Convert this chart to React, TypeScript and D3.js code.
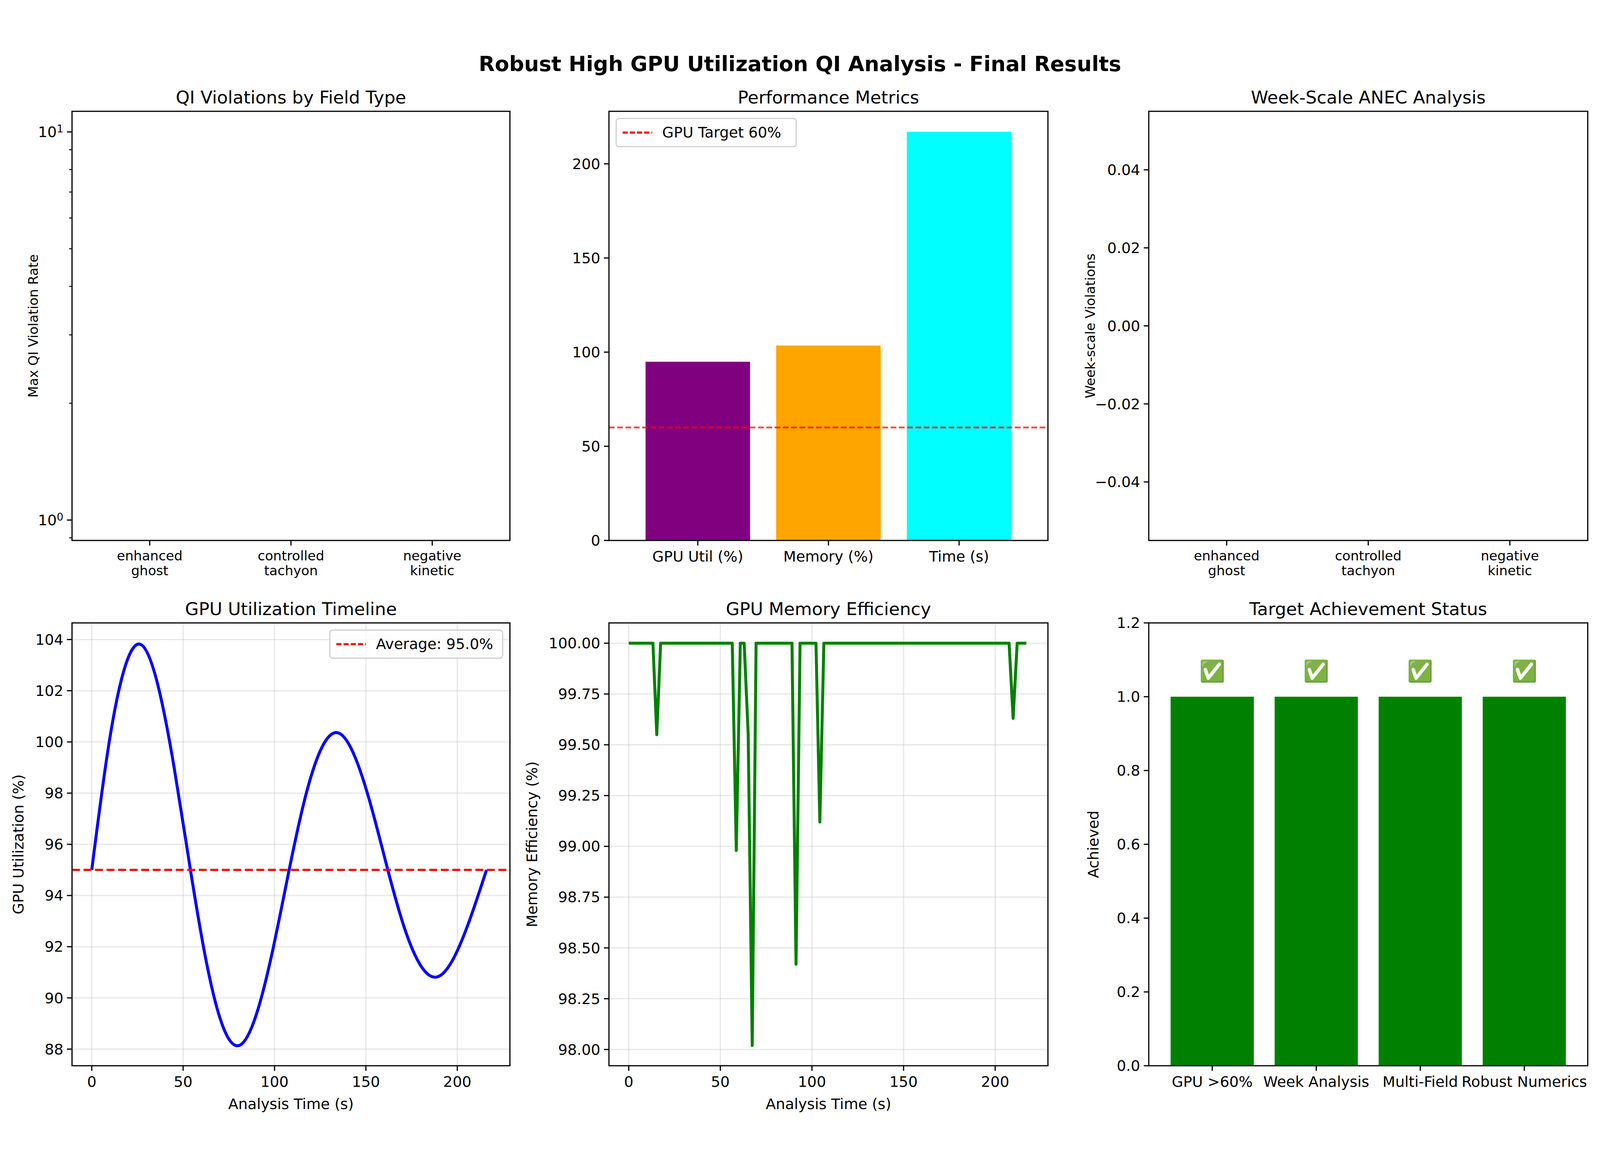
import React, { useEffect } from 'react';
import * as d3 from 'd3';

const W = 4443;
const H = 2955;
const FONT = 'DejaVu Sans, sans-serif';

// field types (panels 1 and 3, no visible values)
const fieldTypes = ['enhanced\nghost', 'controlled\ntachyon', 'negative\nkinetic'];

// performance metrics
const perfLabels = ['GPU Util (%)', 'Memory (%)', 'Time (s)'];
const perfValues = [94.9, 103.5, 217];
const perfColors = ['purple', 'orange', 'cyan'];
const gpuTarget = 60;

// GPU utilization timeline
const utilTime = [0, 9, 18, 27, 36, 45, 54, 63, 72, 81, 90, 99, 108, 117, 126, 135, 144, 153, 162, 171, 180, 189, 198, 207, 216];
const utilValues = [95, 99.75, 102.89, 103.8, 102.27, 99.03, 95, 91.3, 88.84, 88.15, 89.34, 91.86, 95, 97.89, 99.8, 100.35, 99.42, 97.45, 95, 92.75, 91.26, 90.82, 91.55, 93.09, 95];
const utilAvg = 95.0;

// memory efficiency
const memTime = [0, 13.2, 15.3, 17.4, 56.5, 58.7, 60.9, 63, 65.2, 67.4, 69.5, 89.1, 91.3, 93.5, 102.2, 104.3, 106.5, 207.6, 209.8, 212, 217];
const memValues = [100, 100, 99.55, 100, 100, 98.98, 100, 100, 99.55, 98.02, 100, 100, 98.42, 100, 100, 99.12, 100, 100, 99.63, 100, 100];

// targets
const targetLabels = ['GPU >60%', 'Week Analysis', 'Multi-Field', 'Robust Numerics'];
const targetValues = [1, 1, 1, 1];

const cols = [[200, 1416], [1691, 2910], [3190, 4409]];
const rows = [[184, 1376], [1605, 2835]];

const TICK = 14;
const LW = 3.3;

function Frame({ x0, x1, y0, y1 }) {
  return <rect x={x0} y={y0} width={x1 - x0} height={y1 - y0} fill="none" stroke="#000" strokeWidth={LW} />;
}

function YTicks({ scale, ticks, x0, fmt, size = 41 }) {
  return (
    <g>
      {ticks.map((t, i) => (
        <g key={i} transform={`translate(0,${scale(t)})`}>
          <line x1={x0 - TICK} x2={x0} stroke="#000" strokeWidth={LW} />
          <text x={x0 - TICK - 10} dy="0.35em" textAnchor="end" fontSize={size} fontFamily={FONT}>{fmt(t)}</text>
        </g>
      ))}
    </g>
  );
}

function XTicks({ scale, ticks, y1, labels, size = 41 }) {
  return (
    <g>
      {ticks.map((t, i) => {
        const lines = String(labels[i]).split('\n');
        return (
          <g key={i} transform={`translate(${scale(t)},0)`}>
            <line y1={y1} y2={y1 + TICK} stroke="#000" strokeWidth={LW} />
            {lines.map((l, j) => (
              <text key={j} y={y1 + TICK + 12 + size * 0.8 + j * size * 1.1} textAnchor="middle" fontSize={size} fontFamily={FONT}>{l}</text>
            ))}
          </g>
        );
      })}
    </g>
  );
}

function Title({ x0, x1, y0, text }) {
  return <text x={(x0 + x1) / 2} y={y0 - 22} textAnchor="middle" fontSize={49} fontFamily={FONT}>{text}</text>;
}

function YLabel({ x, y0, y1, text, size = 41 }) {
  return <text transform={`translate(${x},${(y0 + y1) / 2}) rotate(-90)`} textAnchor="middle" fontSize={size} fontFamily={FONT}>{text}</text>;
}

function XLabel({ x0, x1, y, text }) {
  return <text x={(x0 + x1) / 2} y={y} textAnchor="middle" fontSize={41} fontFamily={FONT}>{text}</text>;
}

function Grid({ xs, ys, x0, x1, y0, y1 }) {
  return (
    <g stroke="#b0b0b0" strokeOpacity={0.3} strokeWidth={3.3}>
      {xs.map((v, i) => <line key={'x' + i} x1={v} x2={v} y1={y0} y2={y1} />)}
      {ys.map((v, i) => <line key={'y' + i} y1={v} y2={v} x1={x0} x2={x1} />)}
    </g>
  );
}

function Legend({ x, y, w, label }) {
  return (
    <g>
      <rect x={x} y={y} width={w} height={78} rx={8} fill="#fff" fillOpacity={0.8} stroke="#ccc" strokeWidth={3} />
      <line x1={x + 18} x2={x + 100} y1={y + 39} y2={y + 39} stroke="red" strokeWidth={LW * 1.8} strokeDasharray="14,6" />
      <text x={x + 128} y={y + 53} fontSize={41} fontFamily={FONT}>{label}</text>
    </g>
  );
}

function QIPanel() {
  const [x0, x1] = cols[0];
  const [y0, y1] = rows[0];
  const x = d3.scaleLinear().domain([-0.55, 2.55]).range([x0, x1]);
  const y = d3.scaleLog().domain([0.886, 11.3]).range([y1, y0]);
  const minor = [0.9, 2, 3, 4, 5, 6, 7, 8, 9];
  return (
    <g>
      <Title x0={x0} x1={x1} y0={y0} text="QI Violations by Field Type" />
      {minor.map((m, i) => <line key={i} x1={x0 - 8} x2={x0} y1={y(m)} y2={y(m)} stroke="#000" strokeWidth={2.6} />)}
      {[1, 10].map((t, i) => (
        <g key={i}>
          <line x1={x0 - TICK} x2={x0} y1={y(t)} y2={y(t)} stroke="#000" strokeWidth={LW} />
          <text x={x0 - TICK - 10} y={y(t)} dy="0.35em" textAnchor="end" fontSize={41} fontFamily={FONT}>10<tspan dy="-0.45em" fontSize={29}>{i}</tspan></text>
        </g>
      ))}
      <XTicks scale={x} ticks={[0, 1, 2]} y1={y1} labels={fieldTypes} size={37} />
      <YLabel x={x0 - 95} y0={y0} y1={y1} text="Max QI Violation Rate" size={37} />
      <Frame x0={x0} x1={x1} y0={y0} y1={y1} />
    </g>
  );
}

function PerfPanel() {
  const [x0, x1] = cols[1];
  const [y0, y1] = rows[0];
  const x = d3.scaleBand().domain(perfLabels).range([x0, x1]).paddingInner(0.2).paddingOuter(0.28);
  const y = d3.scaleLinear().domain([0, 227.9]).range([y1, y0]);
  return (
    <g>
      <Title x0={x0} x1={x1} y0={y0} text="Performance Metrics" />
      {perfLabels.map((l, i) => (
        <rect key={l} x={x(l)} width={x.bandwidth()} y={y(perfValues[i])} height={y(0) - y(perfValues[i])} fill={perfColors[i]} />
      ))}
      <line x1={x0} x2={x1} y1={y(gpuTarget)} y2={y(gpuTarget)} stroke="red" strokeOpacity={0.7} strokeWidth={LW * 1.5} strokeDasharray="16,7" />
      <YTicks scale={y} ticks={[0, 50, 100, 150, 200]} x0={x0} fmt={d3.format('d')} />
      <XTicks scale={(l) => x(l) + x.bandwidth() / 2} ticks={perfLabels} y1={y1} labels={perfLabels} />
      <Legend x={x0 + 20} y={y0 + 20} w={500} label="GPU Target 60%" />
      <Frame x0={x0} x1={x1} y0={y0} y1={y1} />
    </g>
  );
}

function AnecPanel() {
  const [x0, x1] = cols[2];
  const [y0, y1] = rows[0];
  const x = d3.scaleLinear().domain([-0.55, 2.55]).range([x0, x1]);
  const y = d3.scaleLinear().domain([-0.055, 0.055]).range([y1, y0]);
  return (
    <g>
      <Title x0={x0} x1={x1} y0={y0} text="Week-Scale ANEC Analysis" />
      <YTicks scale={y} ticks={[-0.04, -0.02, 0, 0.02, 0.04]} x0={x0} fmt={(t) => d3.format('.2f')(t).replace('-', '\u2212')} />
      <XTicks scale={x} ticks={[0, 1, 2]} y1={y1} labels={fieldTypes} size={37} />
      <YLabel x={x0 - 150} y0={y0} y1={y1} text="Week-scale Violations" size={37} />
      <Frame x0={x0} x1={x1} y0={y0} y1={y1} />
    </g>
  );
}

function UtilPanel() {
  const [x0, x1] = cols[0];
  const [y0, y1] = rows[1];
  const x = d3.scaleLinear().domain([-10.8, 228.8]).range([x0, x1]);
  const y = d3.scaleLinear().domain([87.35, 104.65]).range([y1, y0]);
  const xt = [0, 50, 100, 150, 200];
  const yt = [88, 90, 92, 94, 96, 98, 100, 102, 104];
  const line = d3.line().x((d) => x(d[0])).y((d) => y(d[1])).curve(d3.curveNatural);
  const pts = utilTime.map((t, i) => [t, utilValues[i]]);
  return (
    <g>
      <Title x0={x0} x1={x1} y0={y0} text="GPU Utilization Timeline" />
      <Grid xs={xt.map(x)} ys={yt.map(y)} x0={x0} x1={x1} y0={y0} y1={y1} />
      <path d={line(pts)} fill="none" stroke="blue" strokeWidth={8.2} />
      <line x1={x0} x2={x1} y1={y(utilAvg)} y2={y(utilAvg)} stroke="red" strokeWidth={6} strokeDasharray="22,10" />
      <YTicks scale={y} ticks={yt} x0={x0} fmt={d3.format('d')} />
      <XTicks scale={x} ticks={xt} y1={y1} labels={xt} />
      <YLabel x={x0 - 135} y0={y0} y1={y1} text="GPU Utilization (%)" />
      <XLabel x0={x0} x1={x1} y={y1 + 120} text="Analysis Time (s)" />
      <Legend x={x1 - 500} y={y0 + 20} w={480} label="Average: 95.0%" />
      <Frame x0={x0} x1={x1} y0={y0} y1={y1} />
    </g>
  );
}

function MemPanel() {
  const [x0, x1] = cols[1];
  const [y0, y1] = rows[1];
  const x = d3.scaleLinear().domain([-10.8, 228.8]).range([x0, x1]);
  const y = d3.scaleLinear().domain([97.92, 100.1]).range([y1, y0]);
  const xt = [0, 50, 100, 150, 200];
  const yt = [98, 98.25, 98.5, 98.75, 99, 99.25, 99.5, 99.75, 100];
  const line = d3.line().x((d) => x(d[0])).y((d) => y(d[1]));
  const pts = memTime.map((t, i) => [t, memValues[i]]);
  return (
    <g>
      <Title x0={x0} x1={x1} y0={y0} text="GPU Memory Efficiency" />
      <Grid xs={xt.map(x)} ys={yt.map(y)} x0={x0} x1={x1} y0={y0} y1={y1} />
      <path d={line(pts)} fill="none" stroke="green" strokeWidth={8.2} strokeLinejoin="round" />
      <YTicks scale={y} ticks={yt} x0={x0} fmt={d3.format('.2f')} />
      <XTicks scale={x} ticks={xt} y1={y1} labels={xt} />
      <YLabel x={x0 - 200} y0={y0} y1={y1} text="Memory Efficiency (%)" />
      <XLabel x0={x0} x1={x1} y={y1 + 120} text="Analysis Time (s)" />
      <Frame x0={x0} x1={x1} y0={y0} y1={y1} />
    </g>
  );
}

function TargetPanel() {
  const [x0, x1] = cols[2];
  const [y0, y1] = rows[1];
  const x = d3.scaleBand().domain(targetLabels).range([x0, x1]).paddingInner(0.2).paddingOuter(0.21);
  const y = d3.scaleLinear().domain([0, 1.2]).range([y1, y0]);
  return (
    <g>
      <Title x0={x0} x1={x1} y0={y0} text="Target Achievement Status" />
      {targetLabels.map((l, i) => (
        <g key={l}>
          <rect x={x(l)} width={x.bandwidth()} y={y(targetValues[i])} height={y(0) - y(targetValues[i])} fill="green" />
          <text x={x(l) + x.bandwidth() / 2} y={y(targetValues[i] + 0.05)} textAnchor="middle" fontSize={58} fontFamily={FONT}>✅</text>
        </g>
      ))}
      <YTicks scale={y} ticks={[0, 0.2, 0.4, 0.6, 0.8, 1.0, 1.2]} x0={x0} fmt={d3.format('.1f')} />
      <XTicks scale={(l) => x(l) + x.bandwidth() / 2} ticks={targetLabels} y1={y1} labels={targetLabels} />
      <YLabel x={x0 - 140} y0={y0} y1={y1} text="Achieved" />
      <Frame x0={x0} x1={x1} y0={y0} y1={y1} />
    </g>
  );
}

export default function App() {
  useEffect(() => {
    document.body.style.margin = '0';
    document.body.style.overflow = 'hidden';
  }, []);
  return (
    <svg viewBox={`0 0 ${W} ${H}`} preserveAspectRatio="xMidYMid meet"
      style={{ display: 'block', width: '100vw', height: '100vh', background: '#fff' }}>
      <rect width={W} height={H} fill="#fff" />
      <text x={W / 2} y={72} textAnchor="middle" fontSize={58} fontWeight="bold" fontFamily={FONT}>
        Robust High GPU Utilization QI Analysis - Final Results
      </text>
      <QIPanel />
      <PerfPanel />
      <AnecPanel />
      <UtilPanel />
      <MemPanel />
      <TargetPanel />
    </svg>
  );
}
